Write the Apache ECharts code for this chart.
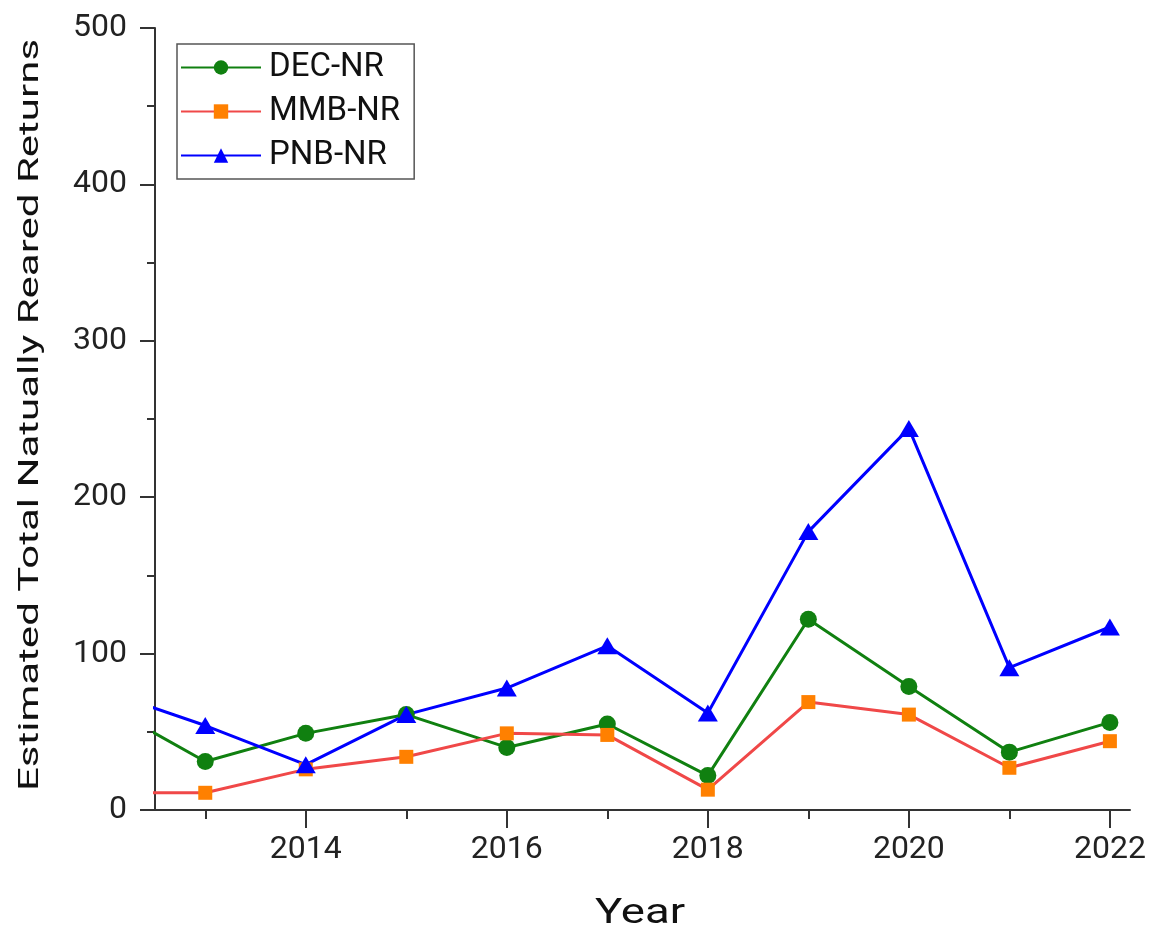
<!DOCTYPE html>
<html>
<head>
<meta charset="utf-8">
<script src="https://cdn.jsdelivr.net/npm/echarts@6/dist/echarts.min.js"></script>
<style>
html,body{margin:0;padding:0;background:#fff;}
#chart{width:1151px;height:936px;}
</style>
</head>
<body>
<div id="chart"></div>
<script>
const years = [2012, 2013, 2014, 2015, 2016, 2017, 2018, 2019, 2020, 2021, 2022];
const decNR = [67, 31, 49, 61, 40, 55, 22, 122, 79, 37, 56];
const mmbNR = [11, 11, 26, 34, 49, 48, 13, 69, 61, 27, 44];
const pnbNR = [76, 54, 29, 61, 78, 105, 62, 178, 244, 91, 117];
const xMajorTicks = [2014, 2016, 2018, 2020, 2022];
const xMinorTicks = [2013, 2015, 2017, 2019, 2021];
const seriesNames = ['DEC-NR', 'MMB-NR', 'PNB-NR'];
const xTitle = 'Year';
const yTitle = 'Estimated Total Natually Reared Returns';

const pairs = arr => years.map((y, i) => [y, arr[i]]);
const FONT = 'Roboto';

const chart = echarts.init(document.getElementById('chart'), null, {renderer: 'canvas'});
chart.setOption({
  animation: false,
  backgroundColor: '#ffffff',
  grid: {left: 155, right: 21, top: 28, bottom: 126, containLabel: false},
  graphic: [{
    type: 'text',
    x: 31, y: 415,
    rotation: Math.PI / 2,
    scaleX: 1.5,
    silent: true,
    style: {text: yTitle, fontFamily: FONT, fontSize: 28, fill: '#111111', align: 'center', verticalAlign: 'middle'}
  }, {
    type: 'text',
    x: 640, y: 914,
    scaleX: 1.3,
    silent: true,
    style: {text: xTitle, fontFamily: FONT, fontSize: 35, fill: '#111111', align: 'center', verticalAlign: 'middle'}
  }],
  legend: {
    orient: 'vertical',
    left: 177, top: 44,
    padding: [7, 14, 7, 3],
    itemGap: 11,
    itemWidth: 80,
    itemHeight: 18,
    borderColor: '#555555',
    borderWidth: 1.5,
    textStyle: {fontFamily: FONT, fontSize: 33, color: '#111111', padding: [0, 0, 0, 3]},
    data: seriesNames
  },
  xAxis: [{
    type: 'value',
    min: 2012.5, max: 2022.2,
    axisLine: {lineStyle: {color: '#333333', width: 2}},
    axisTick: {show: true, inside: false, length: 18, lineStyle: {color: '#333333', width: 2}, customValues: xMajorTicks},
    axisLabel: {fontFamily: FONT, fontSize: 32, color: '#222222', margin: 24, customValues: xMajorTicks,
      formatter: v => String(Math.round(v))},
    splitLine: {show: false}
  }, {
    type: 'value',
    position: 'bottom',
    min: 2012.5, max: 2022.2,
    axisLine: {show: false},
    axisTick: {show: true, inside: false, length: 9, lineStyle: {color: '#333333', width: 2}, customValues: xMinorTicks},
    axisLabel: {show: false, customValues: xMinorTicks},
    splitLine: {show: false}
  }],
  yAxis: {
    type: 'value',
    min: 0, max: 500, interval: 100,
    axisLine: {show: true, lineStyle: {color: '#333333', width: 2}},
    axisTick: {show: true, inside: false, length: 15, lineStyle: {color: '#333333', width: 2}},
    minorTick: {show: true, splitNumber: 2, length: 8, lineStyle: {color: '#333333', width: 2}},
    axisLabel: {fontFamily: FONT, fontSize: 32, color: '#222222', margin: 28},
    splitLine: {show: false}
  },
  series: [{
    name: 'DEC-NR', type: 'line', xAxisIndex: 0, clip: true,
    data: pairs(decNR),
    symbol: 'circle', symbolSize: 17,
    lineStyle: {color: '#108010', width: 3},
    itemStyle: {color: '#108010'}
  }, {
    name: 'MMB-NR', type: 'line', xAxisIndex: 0, clip: true,
    data: pairs(mmbNR),
    symbol: 'rect', symbolSize: 14,
    lineStyle: {color: '#f04848', width: 3},
    itemStyle: {color: '#ff8000'}
  }, {
    name: 'PNB-NR', type: 'line', xAxisIndex: 0, clip: true,
    data: pairs(pnbNR),
    symbol: 'triangle', symbolSize: [20, 17],
    lineStyle: {color: '#0000ff', width: 3},
    itemStyle: {color: '#0000ff'}
  }]
});
</script>
</body>
</html>
